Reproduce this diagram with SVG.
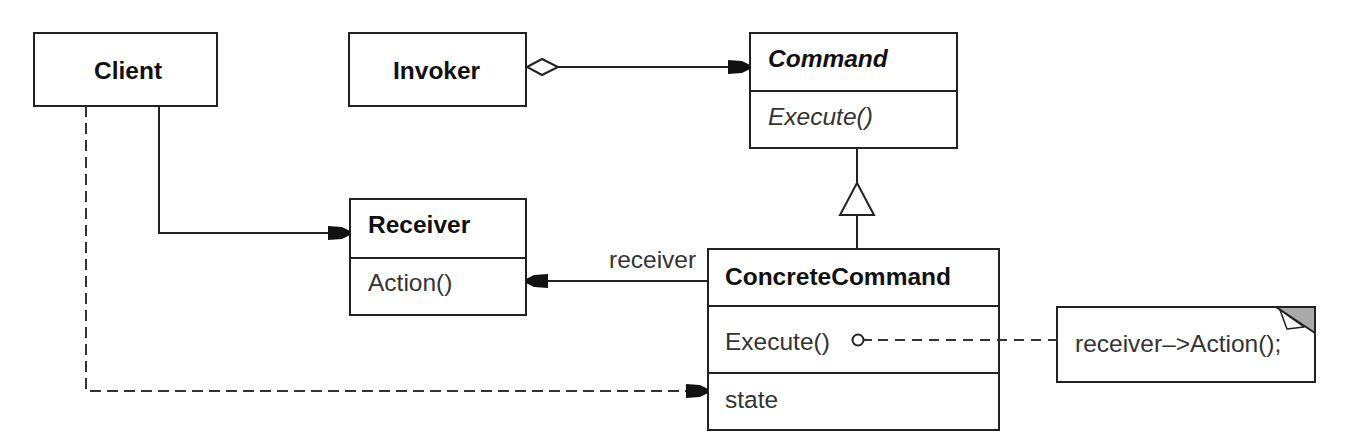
<svg xmlns="http://www.w3.org/2000/svg" width="1358" height="448" viewBox="0 0 1358 448">
<style>
.box{fill:#fff;stroke:#222;stroke-width:2}
.ln{fill:none;stroke:#222;stroke-width:2}
.dash{fill:none;stroke:#333;stroke-width:2;stroke-dasharray:11 6}
.b{font-family:"Liberation Sans",Arial,sans-serif;font-size:24.5px;font-weight:bold;fill:#111}
.r{font-family:"Liberation Sans",Arial,sans-serif;font-size:24.5px;fill:#333}
.i{font-style:italic}
</style>
<defs>
<marker id="arr" markerUnits="userSpaceOnUse" markerWidth="24" markerHeight="16" viewBox="-23 -8 24 16" refX="0" refY="0" orient="auto">
<polygon points="0,-2 -8,-6 -22,-7 -22,7 -8,6 0,2" fill="#111"/>
</marker>
</defs>
<g id="client">
<rect class="box" x="34" y="33" width="183" height="73"/>
<text class="b" x="94" y="79">Client</text>
</g>
<g id="invoker">
<rect class="box" x="349" y="33" width="177" height="73"/>
<text class="b" x="393" y="79">Invoker</text>
</g>
<g id="command">
<rect class="box" x="750" y="33" width="207" height="115"/>
<line class="ln" x1="750" y1="91" x2="957" y2="91"/>
<text class="b i" x="768" y="67">Command</text>
<text class="r i" x="768" y="125">Execute()</text>
</g>
<g id="receiver">
<rect class="box" x="350" y="199" width="176" height="116"/>
<line class="ln" x1="350" y1="258" x2="526" y2="258"/>
<text class="b" x="368" y="233">Receiver</text>
<text class="r" x="368" y="291">Action()</text>
</g>
<g id="concretecommand">
<rect class="box" x="708" y="249" width="291" height="181"/>
<line class="ln" x1="708" y1="306" x2="999" y2="306"/>
<line class="ln" x1="708" y1="373" x2="999" y2="373"/>
<text class="b" x="725" y="285">ConcreteCommand</text>
<text class="r" x="725" y="350">Execute()</text>
<text class="r" x="725" y="408">state</text>
</g>
<g id="note">
<rect class="box" x="1057" y="307" width="258" height="75"/>
<polygon points="1276,307 1315,307 1315,333" fill="#aaa" stroke="#222" stroke-width="2" stroke-linejoin="round"/>
<polygon points="1280,310 1287,329 1304,327" fill="#fff" stroke="#222" stroke-width="1.5" stroke-linejoin="round"/>
<text class="r" x="1075" y="352">receiver–&gt;Action();</text>
</g>
<g id="connectors">
<line class="ln" x1="558" y1="67" x2="750" y2="67" marker-end="url(#arr)"/>
<polygon points="527,67 542,59 558,67 542,75" fill="#fff" stroke="#222" stroke-width="2"/>
<polyline class="ln" points="857,148 857,183"/>
<polygon points="857,183 840,215 874,215" fill="#fff" stroke="#222" stroke-width="2"/>
<polyline class="ln" points="857,215 857,249"/>
<polyline class="ln" points="159,106 159,233 350,233" marker-end="url(#arr)"/>
<line class="ln" x1="708" y1="281" x2="526" y2="281" marker-end="url(#arr)"/>
<polyline class="dash" points="86,106 86,391 708,391" marker-end="url(#arr)"/>
<circle cx="858" cy="340" r="5.5" fill="#fff" stroke="#222" stroke-width="2"/>
<line x1="864" y1="340" x2="872" y2="340" stroke="#333" stroke-width="2"/>
<line class="dash" x1="878" y1="340" x2="1057" y2="340" style="stroke-dasharray:10 7"/>
<text class="r" x="609" y="268">receiver</text>
</g>
</svg>
